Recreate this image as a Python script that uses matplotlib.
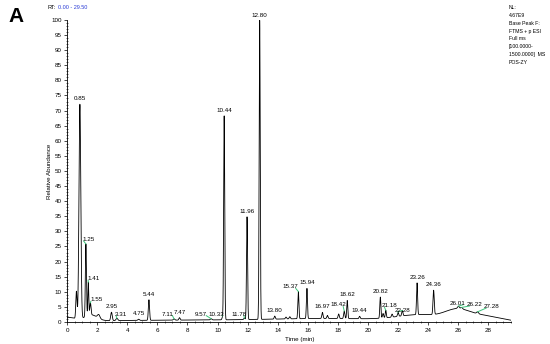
import numpy as np
import matplotlib.pyplot as plt
from matplotlib.ticker import MultipleLocator

# peak list: retention time (min), height above baseline (%), width (min)
peak_rt = [0.62, 0.85, 1.25, 1.41, 1.55, 2.10, 2.95, 3.31, 4.75, 5.44,
           7.11, 7.47, 9.57, 10.33, 10.44, 11.78, 11.96, 12.80, 13.80, 14.55,
           14.80, 15.37, 15.94, 16.97, 17.30, 18.05, 18.42, 18.62, 19.44, 20.82,
           21.00, 21.18, 21.60, 22.00, 22.28, 23.26, 24.36, 26.01, 26.22, 27.28]
peak_h = [9.0, 71.0, 24.0, 11.0, 4.0, 1.2, 2.8, 0.8, 0.4, 6.8,
          0.4, 0.8, 0.4, 0.8, 67.5, 0.5, 34.0, 99.0, 1.0, 0.6,
          0.7, 9.0, 10.0, 2.0, 1.0, 1.5, 2.5, 6.0, 0.8, 7.0,
          1.5, 2.5, 1.0, 1.3, 1.8, 10.5, 8.0, 0.8, 0.5, 0.6]
peak_w = [0.04, 0.06, 0.035, 0.03, 0.04, 0.08, 0.05, 0.06, 0.05, 0.04,
          0.05, 0.04, 0.05, 0.04, 0.035, 0.04, 0.035, 0.035, 0.04, 0.04,
          0.04, 0.035, 0.035, 0.04, 0.04, 0.04, 0.04, 0.035, 0.04, 0.035,
          0.04, 0.035, 0.04, 0.04, 0.04, 0.035, 0.04, 0.06, 0.06, 0.06]

# broad baseline components (centre, level, spread)
base_c = [0.0, 1.6, 8.0, 18.0, 23.5, 25.9, 27.6]
base_h = [1.3, 2.0, 0.6, 1.0, 2.0, 3.0, 2.0]
base_w = [0.6, 0.4, 6.0, 4.0, 1.5, 0.8, 1.2]

labels = ['0.85', '1.25', '1.41', '1.55', '2.95', '3.31', '4.75', '5.44', '7.11', '7.47',
          '9.57', '10.33', '10.44', '11.78', '11.96', '12.80', '13.80', '15.37', '15.94', '16.97',
          '18.42', '18.62', '19.44', '20.82', '21.18', '22.28', '23.26', '24.36', '26.01', '26.22',
          '27.28']

# labels that are moved away from their peak: label centre x, label y
moved = {'1.25': (1.45, 26.5), '1.41': (1.75, 13.5), '1.55': (1.93, 6.5),
         '3.31': (3.6, 1.8), '7.11': (6.65, 1.8), '9.57': (8.9, 1.8),
         '10.33': (9.95, 1.8), '11.78': (11.4, 1.8), '15.37': (14.85, 10.8),
         '18.42': (18.0, 4.8), '21.18': (21.45, 4.5), '22.28': (22.3, 3.0),
         '26.01': (25.96, 5.4), '26.22': (27.1, 5.0), '27.28': (28.2, 4.3)}

info = ['NL:', '4.67E9', 'Base Peak F:', 'FTMS + p ESI', 'Full ms',
        '[100.0000-', '1500.0000]  MS', 'POS-ZY']

t = np.linspace(0, 29.5, 8000)
y = np.zeros_like(t)
for c, h, w in zip(base_c, base_h, base_w):
    y += h * np.exp(-0.5 * ((t - c) / w) ** 2)
for c, h, w in zip(peak_rt, peak_h, peak_w):
    y += h * np.exp(-0.5 * ((t - c) / w) ** 2)

plt.rcParams['font.family'] = ['Liberation Sans', 'DejaVu Sans']
fig = plt.figure(figsize=(5.5, 3.44), dpi=100)
ax = fig.add_axes([0.122, 0.064, 0.807, 0.878])
ax.plot(t, y, color='black', lw=0.6)
ax.set_xlim(0, 29.5)
ax.set_ylim(0, 100)
for s in ['top', 'right']:
    ax.spines[s].set_visible(False)
for s in ['left', 'bottom']:
    ax.spines[s].set_linewidth(0.6)
ax.xaxis.set_major_locator(MultipleLocator(2))
ax.xaxis.set_minor_locator(MultipleLocator(0.5))
ax.yaxis.set_major_locator(MultipleLocator(5))
ax.yaxis.set_minor_locator(MultipleLocator(1))
ax.tick_params(which='major', length=2.5, width=0.5, labelsize=4.5, pad=1.5)
ax.tick_params(which='minor', length=1.5, width=0.4, direction='inout')
ax.set_xlabel('Time (min)', fontsize=4.5)
ax.set_ylabel('Relative Abundance', fontsize=4.5)
ax.xaxis.set_label_coords(0.525, -0.05)
ax.yaxis.set_label_coords(-0.034, 0.5)

for lab in labels:
    rt = float(lab)
    top = np.interp(rt, t, y)
    if lab in moved:
        lx, ly = moved[lab]
        ax.text(lx, ly, lab, fontsize=4.5, ha='center', va='bottom')
        edge = lx - 0.35 if lx > rt else lx + 0.35
        ax.plot([rt, edge], [top, ly + 0.3], color='#3cc47a', lw=0.7)
    else:
        ax.text(rt, top + 1.0, lab, fontsize=4.5, ha='center', va='bottom')

fig.text(0.015, 0.935, 'A', fontsize=15, fontweight='bold')
fig.text(0.087, 0.977, 'RT:', fontsize=4, va='center')
fig.text(0.105, 0.977, '0.00 - 29.50', fontsize=4, va='center', color='#2b3cd6')
fig.text(0.925, 0.985, '\n'.join(info), fontsize=3.7, va='top', linespacing=1.7)

fig.savefig('out.png', dpi=100)
